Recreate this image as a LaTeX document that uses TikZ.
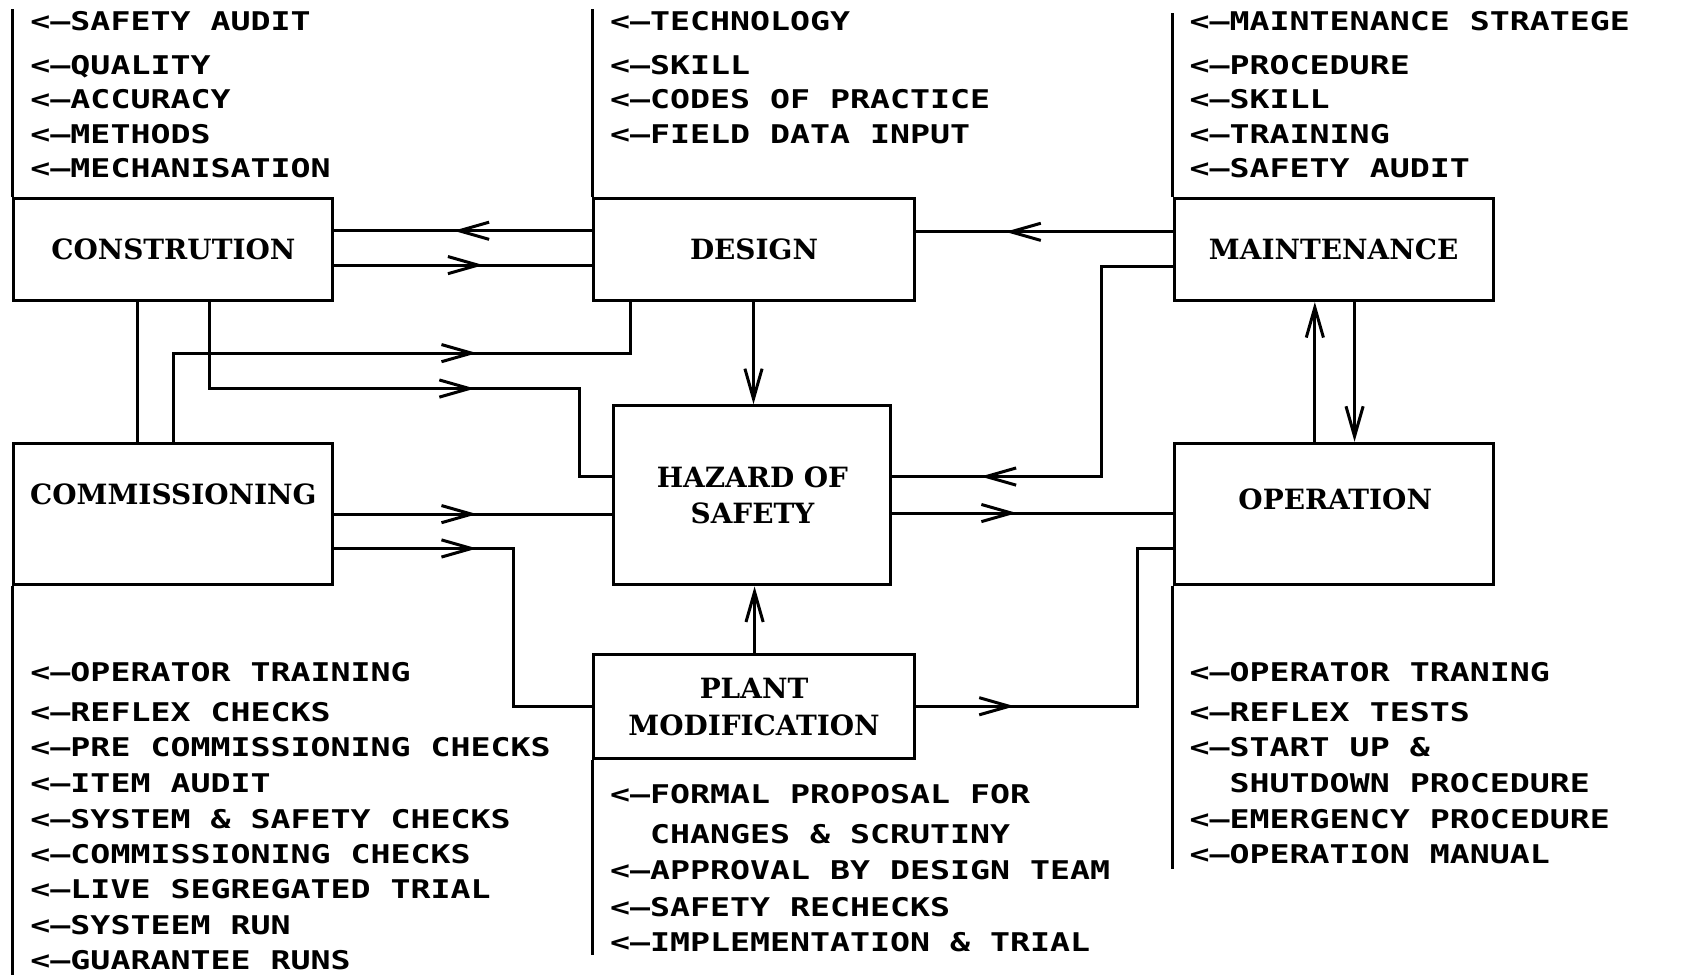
\documentclass[tikz,border=0pt]{standalone}
\usepackage{fontspec}
\newfontfamily\lstfont[FakeStretch=1.29]{DejaVu Sans Mono}
\newfontfamily\boxfont{DejaVu Serif}
\usetikzlibrary{arrows.meta,decorations.markings}
\begin{document}
\begin{tikzpicture}[x=0.5pt,y=-0.5pt,
  >={Straight Barb[length=14pt,width=8pt]},
  box/.style={draw, line width=1.4pt, inner sep=0pt, align=center,
    font=\boxfont\bfseries\fontsize{13}{17}\selectfont},
  lbl/.style={inner sep=0pt, align=center,
    font=\boxfont\bfseries\fontsize{13}{17}\selectfont},
  lst/.style={anchor=base west, inner sep=0pt,
    font=\lstfont\bfseries\fontsize{12}{14}\selectfont},
  conn/.style={line width=1.4pt},
  mid/.style={postaction={decorate},
    decoration={markings, mark=at position #1 with {\arrow{>}}}}]
\useasboundingbox (0,0) rectangle (1568,908);

% boxes
\node[box, minimum width=148.5pt, minimum height=47.5pt] (con) at (161.5,232.5) {CONSTRUTION};
\node[box, minimum width=149.5pt, minimum height=47.5pt] (des) at (702.5,232.5) {DESIGN};
\node[box, minimum width=148.5pt, minimum height=47.5pt] (mai) at (1242.5,232.5) {MAINTENANCE};
\node[box, minimum width=148.5pt, minimum height=66pt] (com) at (161.5,479) {};
\node[lbl] (comlbl) at (161.5,461) {COMMISSIONING};
\node[box, minimum width=129pt, minimum height=83.5pt] (haz) at (701,461.5) {HAZARD OF\\SAFETY};
\node[box, minimum width=148.5pt, minimum height=66pt] (ope) at (1242.5,479) {};
\node[lbl] (opelbl) at (1244,465) {OPERATION};
\node[box, minimum width=149.5pt, minimum height=48.5pt] (pla) at (702.5,658.5) {PLANT\\MODIFICATION};

% list rules
\draw[conn] (con.north west) -- (con.north west |- 0,8);
\draw[conn] (des.north west) -- (des.north west |- 0,8);
\draw[conn] (mai.north west) -- (mai.north west |- 0,12);
\draw[conn] (com.south west) -- (com.south west |- 0,908);
\draw[conn] (pla.south west) -- (pla.south west |- 0,890);
\draw[conn] (ope.south west) -- (ope.south west |- 0,810);

% connectors
\draw[conn, mid=64.5pt] (des.west |- 0,215) -- (con.east |- 0,215);
\draw[conn, mid=69.5pt] (con.east |- 0,247) -- (des.west |- 0,247);
\draw[conn, mid=78pt] (mai.west |- 0,216) -- (des.east |- 0,216);
\draw[conn, mid=187.5pt] (mai.west |- 0,248) -- (1026,248) -- (1026,444) -- (haz.east |- 0,444);
\draw[conn, mid=58pt] (haz.east |- 0,478) -- (ope.west |- 0,478);
\draw[conn, mid=46pt] (pla.east |- 0,658) -- (1060,658) -- (1060,511) -- (ope.west |- 0,511);
\draw[conn, ->] (des.south -| 702,0) -- (haz.north -| 702,0);
\draw[conn, ->] (pla.north -| 703,0) -- (haz.south -| 703,0);
\draw[conn, ->] (ope.north -| 1225,0) -- (mai.south -| 1225,0);
\draw[conn, ->] (mai.south -| 1262,0) -- (ope.north -| 1262,0);
\draw[conn, mid=164pt] (con.south -| 195,0) -- (195,362) -- (540,362) -- (540,444) -- (haz.west |- 0,444);
\draw[conn, mid=182.5pt] (com.north -| 162,0) -- (162,329) -- (587,329) -- (des.south -| 587,0);
\draw[conn] (con.south -| 128,0) -- (com.north -| 128,0);
\draw[conn, mid=66.5pt] (com.east |- 0,479) -- (haz.west |- 0,479);
\draw[conn, mid=66.5pt] (com.east |- 0,511) -- (478,511) -- (478,658) -- (pla.west |- 0,658);

% lists
\foreach \t/\y [count=\i] in {{SAFETY AUDIT}/20, {QUALITY}/61, {ACCURACY}/93, {METHODS}/125, {MECHANISATION}/157}
  \node[lst] (tl\i) at (28,\y+8.5) {<–\t};
\foreach \t/\y [count=\i] in {{TECHNOLOGY}/20, {SKILL}/61, {CODES OF PRACTICE}/93, {FIELD DATA INPUT}/125}
  \node[lst] (tm\i) at (568,\y+8.5) {<–\t};
\foreach \t/\y [count=\i] in {{MAINTENANCE STRATEGE}/20, {PROCEDURE}/61, {SKILL}/93, {TRAINING}/125, {SAFETY AUDIT}/157}
  \node[lst] (tr\i) at (1108,\y+8.5) {<–\t};
\foreach \t/\y [count=\i] in {{OPERATOR TRAINING}/626, {REFLEX CHECKS}/664, {PRE COMMISSIONING CHECKS}/696, {ITEM AUDIT}/730, {SYSTEM \& SAFETY CHECKS}/763, {COMMISSIONING CHECKS}/796, {LIVE SEGREGATED TRIAL}/829, {SYSTEEM RUN}/862, {GUARANTEE RUNS}/895}
  \node[lst] (bl\i) at (28,\y+8.5) {<–\t};
\foreach \t/\y [count=\i] in {{FORMAL PROPOSAL FOR}/740, {APPROVAL BY DESIGN TEAM}/811, {SAFETY RECHECKS}/845, {IMPLEMENTATION \& TRIAL}/878}
  \node[lst] (bm\i) at (568,\y+8.5) {<–\t};
\node[lst] (bm0) at (568,785.5) {\hphantom{<–}CHANGES \& SCRUTINY};
\foreach \t/\y [count=\i] in {{OPERATOR TRANING}/626, {REFLEX TESTS}/664, {START UP \&}/696, {EMERGENCY PROCEDURE}/763, {OPERATION MANUAL}/796}
  \node[lst] (br\i) at (1108,\y+8.5) {<–\t};
\node[lst] (br0) at (1108,738.5) {\hphantom{<–}SHUTDOWN PROCEDURE};
\end{tikzpicture}
\end{document}
